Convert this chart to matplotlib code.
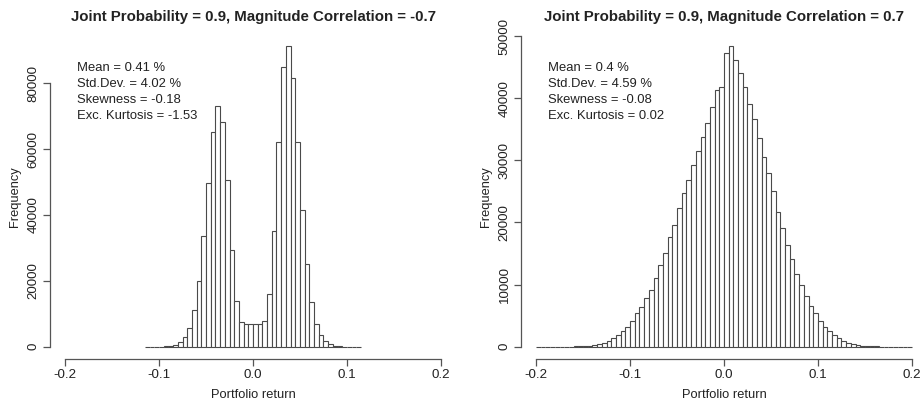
import matplotlib
matplotlib.use("Agg")
import matplotlib.pyplot as plt
import numpy as np

plt.rcParams['font.family'] = ['Liberation Sans', 'DejaVu Sans']

# left histogram: bins of 0.005 starting at -0.115
left_start = -0.115
left_counts = [2, 5, 10, 30, 80, 200, 500, 1300, 3000, 5600, 11100, 20000, 33600,
               49800, 65300, 73100, 68100, 50600, 29400, 13900, 7600, 6800, 6800,
               6800, 6800, 7900, 15900, 35200, 62300, 85000, 91400, 81700, 62300,
               41500, 25000, 13700, 6900, 3600, 1700, 700, 300, 100, 30, 10, 5, 2]
left_title = "Joint Probability = 0.9, Magnitude Correlation = -0.7"
left_stats = ["Mean = 0.41 %", "Std.Dev. = 4.02 %", "Skewness = -0.18",
              "Exc. Kurtosis = -1.53"]
left_yticks = [0, 20000, 40000, 60000, 80000]

# right histogram: bins of 0.005 starting at -0.2
right_start = -0.2
right_counts = [0, 0, 0, 0, 1, 3, 8, 15, 30, 60, 100, 160, 270, 430, 640, 970, 1340,
                1880, 2520, 3220, 4180, 5370, 6440, 7780, 9120, 11000, 13140, 15130,
                17600, 19580, 22260, 24690, 26830, 29250, 31550, 33700, 36050, 38630,
                41320, 41750, 47220, 48450, 46150, 44100, 41750, 39060, 36600, 33540,
                30580, 27900, 25060, 21730, 19150, 16370, 14070, 11700, 9930, 8180,
                6550, 5370, 4180, 3220, 2520, 1880, 1390, 970, 640, 430, 270, 160, 100,
                50, 30, 15, 8, 3, 1, 0, 0, 0]
right_title = "Joint Probability = 0.9, Magnitude Correlation = 0.7"
right_stats = ["Mean = 0.4 %", "Std.Dev. = 4.59 %", "Skewness = -0.08",
               "Exc. Kurtosis = 0.02"]
right_yticks = [0, 10000, 20000, 30000, 40000, 50000]

binw = 0.005
xticks = [-0.2, -0.1, 0.0, 0.1, 0.2]

W, H = 921, 405
fig = plt.figure(figsize=(W / 100, H / 100), dpi=100)

txt = '#222222'
axc = '#555555'


def rhist(left_px, start, counts, title, stats, yticks):
    ax = fig.add_axes([left_px / W, (H - 358.7) / H, 406 / W, 325 / H])
    counts = np.array(counts)
    edges = start + binw * np.arange(len(counts))
    ax.bar(edges, counts, width=binw, align='edge', color='white',
           edgecolor='#4a4a4a', linewidth=0.8)
    m = counts.max()
    ax.set_xlim(-0.216, 0.216)
    ax.set_ylim(-0.04 * m, 1.04 * m)
    for s in ['top', 'right']:
        ax.spines[s].set_visible(False)
    ax.spines['left'].set_bounds(yticks[0], yticks[-1])
    ax.spines['bottom'].set_bounds(-0.2, 0.2)
    for s in ['left', 'bottom']:
        ax.spines[s].set_color(axc)
        ax.spines[s].set_linewidth(0.9)
    ax.set_xticks(xticks)
    ax.set_xticklabels([f"{v:.1f}" for v in xticks])
    ax.set_yticks(yticks)
    ax.set_yticklabels([str(v) for v in yticks])
    ax.tick_params(direction='out', length=5, width=0.9, color=axc,
                   labelsize=9.6, labelcolor=txt, pad=2.5)
    for lab in ax.get_yticklabels():
        lab.set_rotation(90)
        lab.set_va('center')
    ax.set_title(title, fontsize=10.8, fontweight='bold', color=txt, pad=9)
    ax.set_xlabel("Portfolio return", fontsize=9.3, color=txt, labelpad=6)
    ax.set_ylabel("Frequency", fontsize=9.3, color=txt, labelpad=5)
    ys = [0.894, 0.845, 0.796, 0.747]
    for s, yy in zip(stats, ys):
        ax.text(-0.187, yy, s, transform=ax.get_xaxis_transform(),
                fontsize=9.4, color=txt, va='center', ha='left')
    return ax


rhist(50, left_start, left_counts, left_title, left_stats, left_yticks)
rhist(521, right_start, right_counts, right_title, right_stats, right_yticks)

fig.savefig("out.png", dpi=100)
